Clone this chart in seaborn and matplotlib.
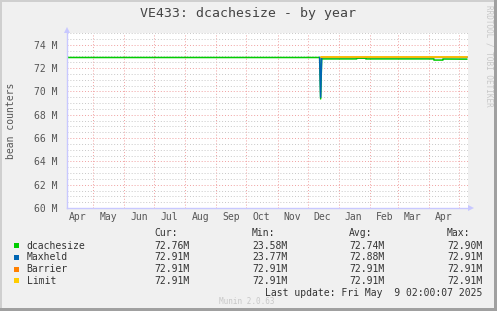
import matplotlib
matplotlib.use("Agg")
import matplotlib.pyplot as plt
import matplotlib.dates as mdates
from matplotlib.patches import Rectangle, Polygon
from matplotlib.ticker import MultipleLocator, FuncFormatter
import pandas as pd
import seaborn as sns

# ---------------- data ----------------
title = "VE433: dcachesize - by year"
ylabel = "bean counters"

dc_dates = ["2024-04-05", "2024-12-13", "2024-12-14", "2024-12-15", "2025-01-19",
            "2025-01-19", "2025-01-28", "2025-01-28", "2025-04-06", "2025-04-06",
            "2025-04-15", "2025-04-15", "2025-05-09"]
dc_values = [72.90e6, 72.90e6, 69.35e6, 72.78e6, 72.78e6,
             72.84e6, 72.84e6, 72.78e6, 72.78e6, 72.68e6,
             72.68e6, 72.77e6, 72.76e6]

mh_dates = ["2024-12-13", "2024-12-14", "2024-12-15", "2025-05-09"]
mh_values = [72.91e6, 69.50e6, 72.91e6, 72.91e6]

br_dates = ["2024-12-14", "2025-05-09"]
br_values = [72.91e6, 72.91e6]

lm_dates = ["2024-12-14", "2025-05-09"]
lm_values = [72.91e6, 72.91e6]

series_names = ["dcachesize", "Maxheld", "Barrier", "Limit"]
series_colors = ["#00CC00", "#0066B3", "#FF8000", "#FFCC00"]
cur_vals = ["72.76M", "72.91M", "72.91M", "72.91M"]
min_vals = ["23.58M", "23.77M", "72.91M", "72.91M"]
avg_vals = ["72.74M", "72.88M", "72.91M", "72.91M"]
max_vals = ["72.90M", "72.91M", "72.91M", "72.91M"]
last_update = "Last update: Fri May  9 02:00:07 2025"
x_start, x_end = "2024-04-05", "2025-05-10"
y_min, y_max = 60e6, 75e6

# ---------------- figure ----------------
W, H = 497, 311
sns.set_theme(style="white")
plt.rcParams["font.family"] = ["DejaVu Sans Mono", "DejaVu Sans"]

fig = plt.figure(figsize=(W / 100, H / 100), dpi=100)
fig.patch.set_facecolor("#F0F0F0")

def fx(px):
    return px / W

def fy(py):
    return 1 - py / H

ax = fig.add_axes([fx(67), fy(208), (468 - 67) / W, (208 - 33) / H])
ax.set_facecolor("white")

data = [(dc_dates, dc_values), (mh_dates, mh_values), (br_dates, br_values), (lm_dates, lm_values)]
for (d, v), c in zip(data, series_colors):
    df = pd.DataFrame({"date": pd.to_datetime(d), "value": v})
    sns.lineplot(data=df, x="date", y="value", color=c, linewidth=1.1,
                 estimator=None, sort=False, ax=ax, legend=False)

ax.set_xlim(pd.Timestamp(x_start), pd.Timestamp(x_end))
ax.set_ylim(y_min, y_max)
ax.set_xlabel("")
ax.set_ylabel("")

# y grid
ax.yaxis.set_major_locator(MultipleLocator(2e6))
ax.yaxis.set_minor_locator(MultipleLocator(0.5e6))
ax.yaxis.set_major_formatter(FuncFormatter(lambda v, p: f"{v/1e6:.0f} M"))
# x grid
ax.xaxis.set_major_locator(mdates.MonthLocator(bymonthday=1))
ax.xaxis.set_minor_locator(mdates.MonthLocator(bymonthday=16))
ax.xaxis.set_major_formatter(matplotlib.ticker.NullFormatter())
ax.xaxis.set_minor_formatter(mdates.DateFormatter("%b"))

dot = (0, (1, 2))
ax.grid(which="minor", axis="y", color="#C8C8C8", linestyle=dot, linewidth=0.7)
ax.grid(which="major", axis="y", color="#F0A0A0", linestyle=dot, linewidth=0.7)
ax.grid(which="major", axis="x", color="#F0A0A0", linestyle=dot, linewidth=0.7)
ax.grid(which="minor", axis="x", visible=False)
ax.set_axisbelow(True)

ax.tick_params(axis="y", which="major", length=2, color="#F0A0A0", labelsize=7,
               labelcolor="#555555", pad=5)
ax.tick_params(axis="y", which="minor", length=2, color="#C8C8C8")
ax.tick_params(axis="x", which="major", length=2, color="#F0A0A0")
ax.tick_params(axis="x", which="minor", length=0, labelsize=7, labelcolor="#555555", pad=3)

for s in ["top", "right"]:
    ax.spines[s].set_visible(False)
for s in ["left", "bottom"]:
    ax.spines[s].set_color("#C8C8FF")
    ax.spines[s].set_linewidth(1.0)

# axis arrows
fig.patches.append(Polygon([[fx(64), fy(33)], [fx(70), fy(33)], [fx(67), fy(27)]],
                           closed=True, transform=fig.transFigure, facecolor="#C8C8FF",
                           edgecolor="none"))
fig.patches.append(Polygon([[fx(468), fy(205)], [fx(468), fy(211)], [fx(474), fy(208)]],
                           closed=True, transform=fig.transFigure, facecolor="#C8C8FF",
                           edgecolor="none"))

# title & labels
fig.text(fx(248), fy(13.5), title, ha="center", va="center", fontsize=9.5, color="#444444")
fig.text(fx(11), fy(121), ylabel, ha="center", va="center", rotation=90, fontsize=7,
         color="#555555")
fig.text(fx(489), fy(5), "RRDTOOL / TOBI OETIKER", ha="center", va="top", rotation=270,
         fontsize=5.5, color="#C8C8C8")

# legend table
txt = dict(fontsize=7, color="#333333", va="center")
for lbl, x in zip(["Cur:", "Min:", "Avg:", "Max:"], [154.3, 251.7, 349, 446.7]):
    fig.text(fx(x), fy(233), lbl, ha="left", **txt)
rows_y = [245.7, 257.3, 269, 280.7]
for i, name in enumerate(series_names):
    y = rows_y[i]
    fig.patches.append(Rectangle((fx(13.8), fy(y + 2.5)), 5 / W, 5 / H,
                                 transform=fig.transFigure, facecolor=series_colors[i],
                                 edgecolor="none"))
    fig.text(fx(26.5), fy(y), name, ha="left", **txt)
    for vals, x in zip([cur_vals, min_vals, avg_vals, max_vals], [189.5, 287.5, 384.3, 482.5]):
        fig.text(fx(x), fy(y), vals[i], ha="right", **txt)
fig.text(fx(482.5), fy(293.3), last_update, ha="right", **txt)
fig.text(fx(247), fy(302), "Munin 2.0.63", ha="center", va="center", fontsize=5.5,
         color="#C8C8C8")

# frame border
fig.patches.append(Rectangle((0, fy(2)), 1, 2 / H, transform=fig.transFigure,
                             facecolor="#CFCFCF", edgecolor="none"))
fig.patches.append(Rectangle((0, 0), 2 / W, 1, transform=fig.transFigure,
                             facecolor="#CFCFCF", edgecolor="none"))
fig.patches.append(Rectangle((fx(494), 0), 3 / W, 1, transform=fig.transFigure,
                             facecolor="#A0A0A0", edgecolor="none"))
fig.patches.append(Rectangle((0, 0), 1, 3 / H, transform=fig.transFigure,
                             facecolor="#A0A0A0", edgecolor="none"))

fig.savefig("out.png", dpi=100, facecolor=fig.get_facecolor())
